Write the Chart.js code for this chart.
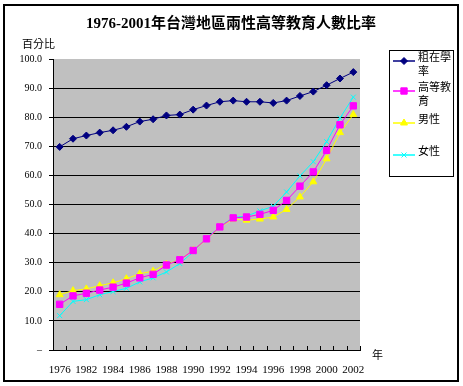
<!DOCTYPE html>
<html>
<head>
<meta charset="utf-8">
<script src="https://cdn.jsdelivr.net/npm/chart.js@4"></script>
<style>
  html, body { margin: 0; padding: 0; background: #fff; }
  #wrap { width: 463px; height: 386px; }
</style>
</head>
<body>
<div id="wrap"><canvas id="chart" width="463" height="386"></canvas></div>
<script>
// data
const years = ["1976", "1981", "1982", "1983", "1984", "1985", "1986", "1987", "1988", "1989",
    "1990", "1991", "1992", "1993", "1994", "1995", "1996", "1997", "1998", "1999",
    "2000", "2001", "2002"];
const grossRate = [69.8, 72.6, 73.7, 74.7, 75.5, 76.7, 78.5, 79.3, 80.6, 80.9,
    82.6, 84.0, 85.3, 85.7, 85.3, 85.3, 84.9, 85.7, 87.3, 88.8,
    91.0, 93.3, 95.5];
const higherEd = [15.7, 18.6, 19.5, 20.6, 21.6, 23.0, 24.8, 26.0, 29.2, 31.0,
    34.2, 38.2, 42.3, 45.4, 45.7, 46.6, 48.0, 51.4, 56.3, 61.2,
    68.6, 77.4, 83.9];
const male = [19.0, 20.4, 21.0, 22.1, 23.1, 24.5, 26.2, 27.1, 29.5, 31.0,
    34.2, 38.0, 42.3, 45.0, 44.6, 45.0, 45.7, 48.3, 52.6, 57.8,
    65.7, 74.7, 80.9];
const female = [11.8, 16.7, 17.3, 19.0, 20.1, 21.2, 23.4, 24.8, 26.8, 29.7,
    33.7, 38.4, 42.3, 45.6, 46.0, 47.8, 49.4, 54.3, 59.8, 64.7,
    71.6, 79.7, 86.9];
const seriesNames = ["粗在學率", "高等教育", "男性", "女性"];
const legendLines = [["粗在學", "率"], ["高等教", "育"], ["男性"], ["女性"]];

const titleText = "1976-2001年台灣地區兩性高等教育人數比率";
const serif = "'Liberation Serif', 'Noto Sans CJK TC', serif";
const cjk = "'Noto Sans CJK TC', 'Liberation Serif', sans-serif";

// white page, gray plot area
const background = {
    id: "background",
    beforeDraw(chart) {
        const c = chart.ctx;
        const a = chart.chartArea;
        c.save();
        c.fillStyle = "#fff";
        c.fillRect(0, 0, chart.width, chart.height);
        c.fillStyle = "#C0C0C0";
        c.fillRect(a.left, a.top, a.right - a.left, a.bottom - a.top);
        c.restore();
    }
};

// outer frame, title, axis captions, inward category ticks and legend
const decor = {
    id: "decor",
    afterDraw(chart) {
        const c = chart.ctx;
        const area = chart.chartArea;
        c.save();

        c.strokeStyle = "#000";
        c.lineWidth = 2;
        c.strokeRect(4, 5, 454, 376);

        c.fillStyle = "#000";
        c.textAlign = "center";
        c.textBaseline = "middle";
        c.font = "bold 15px " + serif;
        c.fillText(titleText, 231, 24);

        c.font = "11px " + cjk;
        c.textAlign = "left";
        c.fillText("百分比", 22, 44);
        c.fillText("年", 372, 355);

        const xs = chart.scales.x;
        c.lineWidth = 1;
        c.beginPath();
        for (let i = 0; i <= years.length; i++) {
            const px = Math.round(xs.getPixelForValue(i - 0.5)) + 0.5;
            c.moveTo(px, area.bottom);
            c.lineTo(px, area.bottom - 4);
        }
        c.stroke();

        c.lineWidth = 1;
        c.strokeRect(389.5, 50.5, 64, 126);
        const rowY = [61, 91, 123, 155];
        chart.data.datasets.forEach((ds, i) => {
            const y = rowY[i];
            c.strokeStyle = ds.borderColor;
            c.fillStyle = ds.borderColor;
            c.lineWidth = 1.5;
            c.beginPath();
            c.moveTo(393, y);
            c.lineTo(415, y);
            c.stroke();
            c.lineWidth = 1;
            Chart.helpers.drawPoint(c, {
                pointStyle: ds.pointStyle,
                radius: ds.pointRadius,
                borderWidth: 1,
                rotation: 0
            }, 404, y);
            c.fillStyle = "#000";
            c.font = "11px " + cjk;
            c.textAlign = "left";
            legendLines[i].forEach((t, k) => c.fillText(t, 418, y - 4 + k * 14));
        });
        c.restore();
    }
};

function makeSet(label, data, color, style, radius) {
    return {
        label: label,
        data: data,
        borderColor: color,
        backgroundColor: color,
        pointBackgroundColor: color,
        pointBorderColor: color,
        borderWidth: 1,
        pointStyle: style,
        pointRadius: radius,
        pointBorderWidth: 1,
        tension: 0
    };
}

const ctx = document.getElementById("chart").getContext("2d");
new Chart(ctx, {
    type: "line",
    data: {
        labels: years,
        datasets: [
            makeSet(seriesNames[0], grossRate, "#000080", "rectRot", 3.5),
            makeSet(seriesNames[1], higherEd, "#FF00FF", "rect", 4.5),
            makeSet(seriesNames[2], male, "#FFFF00", "triangle", 4),
            makeSet(seriesNames[3], female, "#00FFFF", "crossRot", 3.5)
        ]
    },
    options: {
        responsive: false,
        animation: false,
        layout: { padding: { left: 0, top: 59, right: 103, bottom: 0 } },
        plugins: {
            legend: { display: false },
            title: { display: false },
            tooltip: { enabled: false }
        },
        scales: {
            x: {
                offset: true,
                grid: { display: false },
                border: { display: true, color: "#000", width: 1 },
                ticks: {
                    autoSkip: false,
                    maxRotation: 0,
                    padding: 6,
                    color: "#000",
                    font: { family: serif, size: 11 },
                    callback: (v, i) => (i % 2 === 0 ? years[i] : "")
                },
                afterFit: s => { s.height = 36; }
            },
            y: {
                min: 0,
                max: 100,
                ticks: {
                    stepSize: 10,
                    padding: 7,
                    color: "#000",
                    font: { family: serif, size: 10 },
                    callback: v => (v === 0 ? "–" : v.toFixed(1))
                },
                grid: {
                    color: c => (c.tick && (c.tick.value === 0 || c.tick.value === 100) ? "rgba(0,0,0,0)" : "#000"),
                    tickColor: "#000",
                    tickLength: 4,
                    lineWidth: 1
                },
                border: { display: true, color: "#000", width: 1 },
                afterFit: s => { s.width = 53; }
            }
        }
    },
    plugins: [background, decor]
});
</script>
</body>
</html>
